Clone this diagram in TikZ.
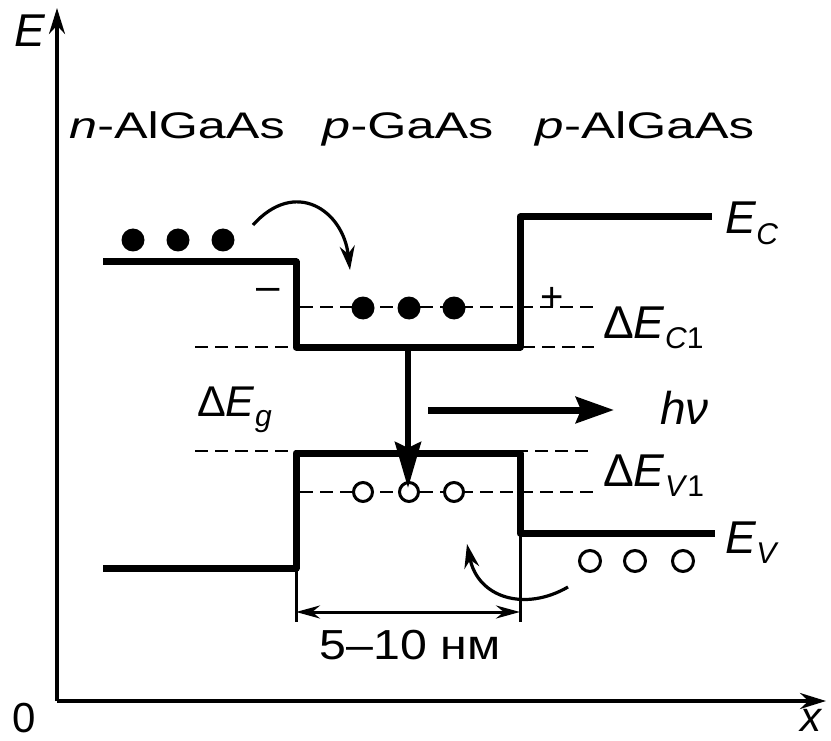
\documentclass[tikz,border=0pt]{standalone}
\usepackage{fontspec}
\setmainfont{Liberation Sans}
\usepackage{graphicx}
\usetikzlibrary{arrows.meta}
\newcommand{\widetxt}[2]{\scalebox{#1}[1]{#2}}
\newcommand{\subtxt}[1]{\raisebox{-10pt}{\fontsize{30}{30}\selectfont #1}}
\begin{document}
\begin{tikzpicture}[x=1pt,y=-1pt,
 band/.style={line width=7pt, line join=round},
 dsh/.style={line width=2.8pt, dash pattern=on 13pt off 7pt},
 axis/.style={line width=3.2pt, -{Stealth[length=26pt,width=16pt]}},
 thinl/.style={line width=3pt},
 elec/.style={circle, fill=black, minimum size=23pt, inner sep=0pt},
 hole/.style={circle, draw=black, line width=3pt, fill=white, minimum size=19pt, inner sep=0pt},
 region/.style={font=\fontsize{37}{40}\selectfont, inner sep=0pt, anchor=base},
 lbl/.style={font=\fontsize{46}{50}\selectfont, inner sep=0pt, anchor=base west},
 curv/.style={line width=3.2pt, -{Stealth[length=24pt,width=15pt]}},
]
\useasboundingbox (0,0) rectangle (831,741);
% axes
\coordinate (O) at (57,701);
\coordinate (Etop) at (57,8);
\coordinate (Xend) at (826,701);
\draw[axis] (O) -- (Etop);
\draw[axis] (O) -- (Xend);
\node[lbl, anchor=base] (Elab) at (30,47) {\textit{E}};
\node[lbl, anchor=base, font=\fontsize{42}{46}\selectfont] (zero) at (24,732) {0};
\node[lbl, anchor=base, font=\fontsize{42}{46}\selectfont] (xlab) at (812,731) {\textit{x}};
% region labels
\node[region] (nA) at (177,139) {\widetxt{1.36}{\textit{n}-AlGaAs}};
\node[region] (pG) at (408,139) {\widetxt{1.36}{\textit{p}-GaAs}};
\node[region] (pA) at (645,139) {\widetxt{1.38}{\textit{p}-AlGaAs}};
% conduction band
\coordinate (c1) at (103,262); \coordinate (c2) at (296,262);
\coordinate (c3) at (296,347); \coordinate (c4) at (520,347);
\coordinate (c5) at (520,217); \coordinate (c6) at (712,217);
\draw[band] (c1) -- (c2) -- (c3) -- (c4) -- (c5) -- (c6);
% valence band
\coordinate (v1) at (103,568); \coordinate (v2) at (296,568);
\coordinate (v3) at (296,453); \coordinate (v4) at (520,453);
\coordinate (v5) at (520,533); \coordinate (v6) at (715,533);
\draw[band] (v1) -- (v2) -- (v3) -- (v4) -- (v5) -- (v6);
% dashed levels
\coordinate (d1a) at (300,307); \coordinate (d1b) at (594,307);
\coordinate (d2a) at (195,347); \coordinate (d2b) at (294,347);
\coordinate (d3a) at (522,347); \coordinate (d3b) at (594,347);
\coordinate (d4a) at (195,451); \coordinate (d4b) at (594,451);
\coordinate (d5a) at (300,492); \coordinate (d5b) at (594,492);
\draw[dsh] (d1a) -- (d1b);
\draw[dsh] (d2a) -- (d2b);
\draw[dsh] (d3a) -- (d3b);
\draw[dsh] (d4a) -- (d4b);
\draw[dsh] (d5a) -- (d5b);
% electrons
\node[elec] (e1) at (133,240) {};
\node[elec] (e2) at (178,240) {};
\node[elec] (e3) at (223,240) {};
\node[elec] (e4) at (363,308) {};
\node[elec] (e5) at (409,308) {};
\node[elec] (e6) at (454,308) {};
% holes
\node[hole] (h1) at (363,492) {};
\node[hole] (h2) at (409,492) {};
\node[hole] (h3) at (454,492) {};
\node[hole, minimum size=21pt] (h4) at (590,561) {};
\node[hole, minimum size=21pt] (h5) at (635,561) {};
\node[hole, minimum size=21pt] (h6) at (683,561) {};
% charges
\node[font=\fontsize{42}{42}\selectfont, inner sep=0pt] (minus) at (268,294) {–};
\node[font=\fontsize{40}{40}\selectfont, inner sep=0pt] (plus) at (552,299) {+};
% curved arrows
\coordinate (ta) at (253,225); \coordinate (tb) at (350,270);
\draw[curv] (ta) .. controls (295,178) and (343,210) .. (tb);
\coordinate (ba) at (568,587); \coordinate (bb) at (467,544);
\draw[curv] (ba) .. controls (525,612) and (478,598) .. (bb);
% recombination arrow
\coordinate (ra) at (408,347); \coordinate (rb) at (408,488);
\draw[line width=6pt, -{Stealth[length=46pt,width=26pt,inset=6pt]}] (ra) -- (rb);
% photon arrow
\coordinate (pa) at (428,410); \coordinate (pb) at (614,410);
\draw[line width=7pt, -{Stealth[length=38pt,width=26pt,inset=5pt]}] (pa) -- (pb);
% dimension
\coordinate (w1) at (296,622); \coordinate (w2) at (520,622);
\draw[thinl] (v2) -- (w1);
\draw[thinl] (v5) -- (w2);
\coordinate (m1) at (296,612); \coordinate (m2) at (520,612);
\draw[thinl, {Stealth[length=24pt,width=13pt]}-{Stealth[length=24pt,width=13pt]}] (m1) -- (m2);
\node[inner sep=0pt, anchor=base, font=\fontsize{42}{46}\selectfont] (dim) at (410,659) {\widetxt{1.15}{5–10 нм}};
% level labels
\node[lbl] (EC) at (725,234) {\textit{E}\subtxt{\textit{C}}};
\node[lbl] (dEC) at (603,338) {Δ\textit{E}\subtxt{\textit{C}1}};
\node[lbl] (hv) at (660,424) {\textit{hν}};
\node[lbl, font=\fontsize{43}{46}\selectfont] (dEg) at (197,416) {Δ\textit{E}\subtxt{\textit{g}}};
\node[lbl] (dEV) at (603,486) {Δ\textit{E}\subtxt{\textit{V}1}};
\node[lbl] (EV) at (725,553) {\textit{E}\subtxt{\textit{V}}};
\end{tikzpicture}
\end{document}
